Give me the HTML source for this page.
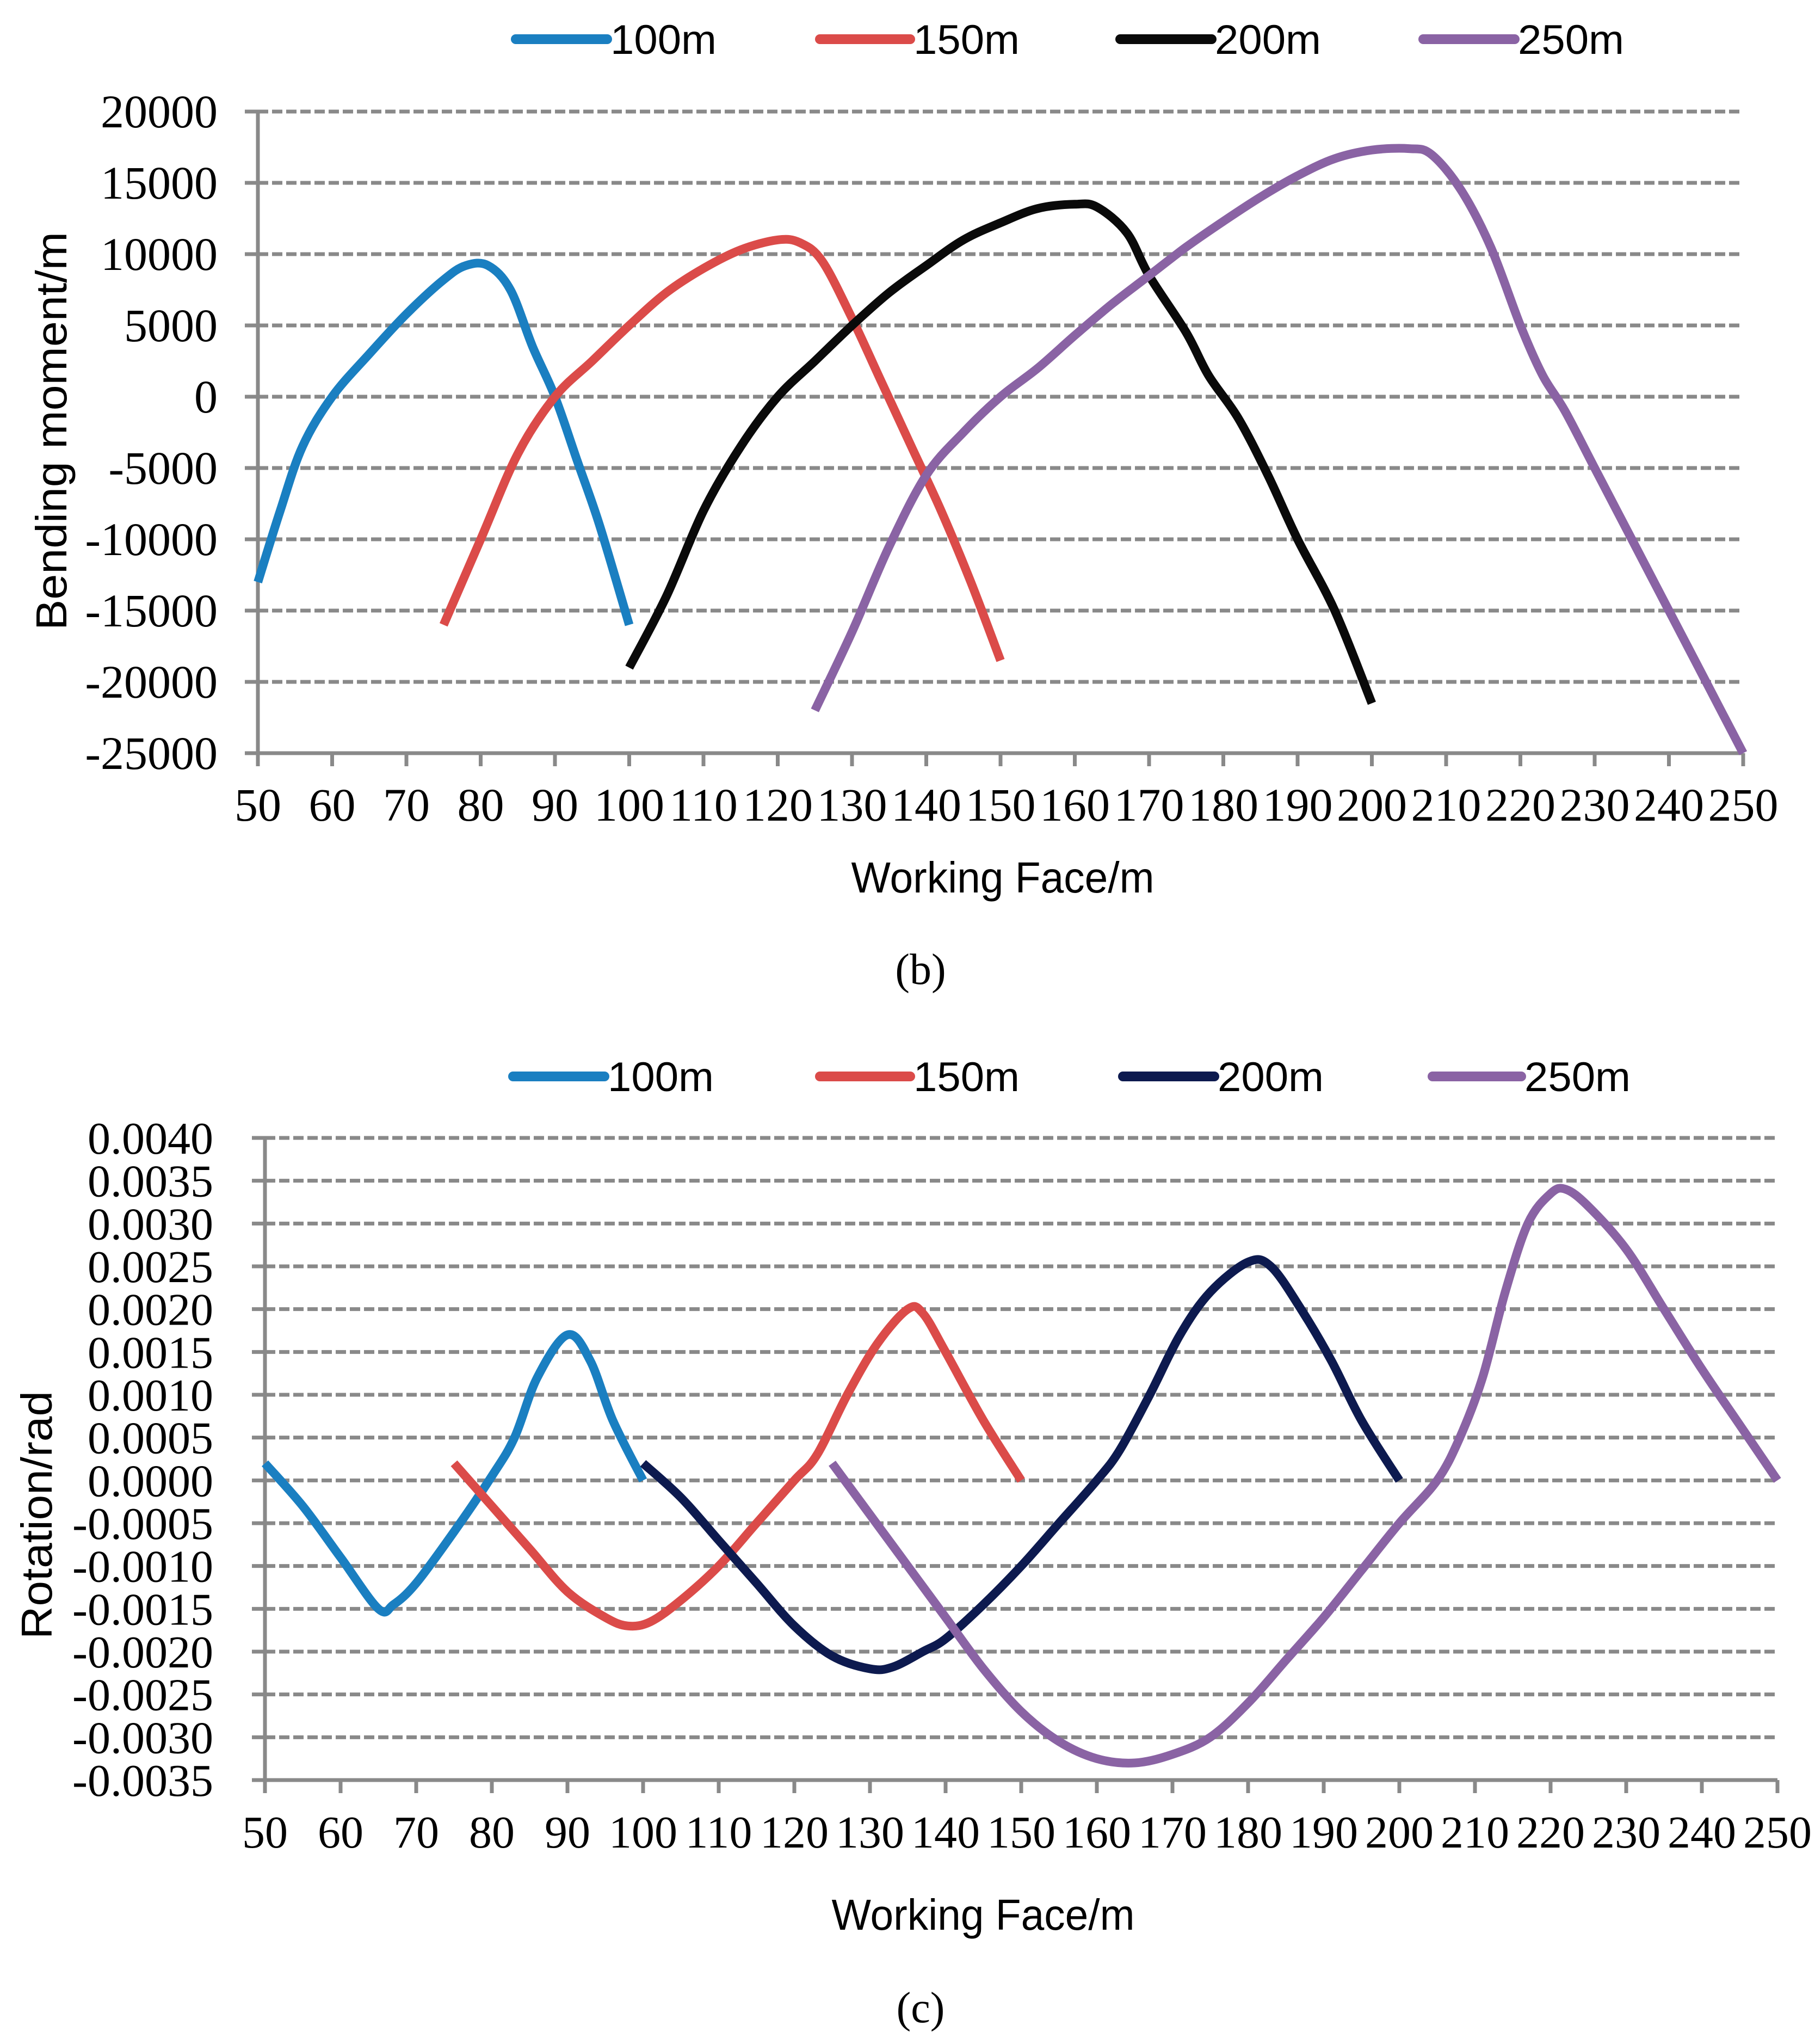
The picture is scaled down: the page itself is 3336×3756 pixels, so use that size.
<!DOCTYPE html>
<html><head><meta charset="utf-8"><style>
html,body{margin:0;padding:0;background:#fff;}
svg{display:block;}
</style></head><body>
<svg id="svg" width="3336" height="3756" viewBox="0 0 3336 3756" xmlns="http://www.w3.org/2000/svg">
<g id="c1"></g>
<g id="c2"></g>
</svg>
<script>
// ---- Chart (b) data ----
const b_x100 = [50,53,56,60,65,70,75,78,81,84,87,90,93,96,100];
const b_y100 = [-13000,-8000,-3500,0,3000,5800,8200,9200,9200,7500,3500,0,-4500,-9000,-16000];
const b_x150 = [75,80,85,90,95,100,105,110,115,120,123,126,130,134,138,142,146,150];
const b_y150 = [-16000,-10000,-4000,0,2500,5000,7300,9000,10300,11000,10800,9500,5500,1000,-3500,-8000,-13000,-18500];
const b_x200 = [100,105,110,115,120,125,130,135,140,145,150,155,160,163,167,170,175,178,182,186,190,195,200];
const b_y200 = [-19000,-14000,-8000,-3500,0,2500,5000,7300,9200,11000,12200,13200,13500,13300,11500,8500,4500,1500,-1500,-5500,-10000,-15000,-21500];
const b_x250 = [125,130,135,140,145,150,155,160,165,170,175,180,185,190,195,200,205,208,212,216,220,223,226,230,235,240,245,250];
const b_y250 = [-22000,-16500,-10500,-5500,-2500,0,2000,4300,6500,8500,10500,12300,14000,15500,16700,17300,17400,17000,14500,10500,5000,1500,-1000,-5000,-10000,-15000,-20000,-25000];
const b_yticks = [20000,15000,10000,5000,0,-5000,-10000,-15000,-20000,-25000];
const xticks = [50,60,70,80,90,100,110,120,130,140,150,160,170,180,190,200,210,220,230,240,250];
// ---- Chart (c) data ----
const c_x100 = [50,55,60,65,67,70,75,80,83,86,90,93,96,100];
const c_y100 = [0.0002,-0.0003,-0.0009,-0.0015,-0.00145,-0.0012,-0.0006,0.00005,0.0005,0.0012,0.0017,0.0014,0.0007,0];
const c_x150 = [75,80,85,90,95,98,101,105,110,115,120,123,127,131,135,137,140,145,150];
const c_y150 = [0.0002,-0.0003,-0.0008,-0.0013,-0.0016,-0.0017,-0.00165,-0.0014,-0.001,-0.0005,0,0.0003,0.001,0.0016,0.002,0.00195,0.0015,0.0007,0];
const c_x200 = [100,105,110,115,120,125,130,133,137,140,145,150,155,160,163,167,171,175,180,183,187,191,195,200];
const c_y200 = [0.0002,-0.0002,-0.0007,-0.0012,-0.0017,-0.00205,-0.0022,-0.00218,-0.002,-0.00185,-0.00145,-0.001,-0.0005,0,0.00035,0.001,0.0017,0.0022,0.00255,0.0025,0.002,0.0014,0.0007,0];
const c_x250 = [125,130,135,140,145,150,155,160,165,170,175,180,185,190,195,200,205,208,211,214,217,220,222,225,230,235,240,245,250];
const c_y250 = [0.0002,-0.0004,-0.001,-0.0016,-0.0022,-0.0027,-0.00305,-0.00325,-0.0033,-0.0032,-0.003,-0.0026,-0.0021,-0.0016,-0.00105,-0.0005,0,0.0005,0.0012,0.0022,0.003,0.00335,0.0034,0.0032,0.0027,0.002,0.0013,0.00065,0];
const c_yticks = [0.0040,0.0035,0.0030,0.0025,0.0020,0.0015,0.0010,0.0005,0.0000,-0.0005,-0.0010,-0.0015,-0.0020,-0.0025,-0.0030,-0.0035];
const legendLabels = ['100m','150m','200m','250m'];

const NS='http://www.w3.org/2000/svg';
function mk(parent,tag,attrs,text){const e=document.createElementNS(NS,tag);for(const k in attrs)e.setAttribute(k,attrs[k]);if(text!==undefined)e.textContent=text;parent.appendChild(e);return e;}
function smooth(pts){let d='M'+pts[0][0].toFixed(1)+','+pts[0][1].toFixed(1);
 for(let i=0;i<pts.length-1;i++){const p0=pts[i-1]||pts[i],p1=pts[i],p2=pts[i+1],p3=pts[i+2]||p2;
  const c1=[p1[0]+(p2[0]-p0[0])/6,p1[1]+(p2[1]-p0[1])/6],c2=[p2[0]-(p3[0]-p1[0])/6,p2[1]-(p3[1]-p1[1])/6];
  d+=' C'+c1[0].toFixed(1)+','+c1[1].toFixed(1)+' '+c2[0].toFixed(1)+','+c2[1].toFixed(1)+' '+p2[0].toFixed(1)+','+p2[1].toFixed(1);}
 return d;}

function chart(g,cfg){
 const xs=v=>cfg.x0+(v-50)/200*(cfg.x1-cfg.x0);
 const ys=v=>cfg.yTop+(cfg.yMax-v)/(cfg.yMax-cfg.yMin)*(cfg.yBot-cfg.yTop);
 cfg.yticks.forEach(t=>{
  const y=ys(t);
  if(Math.abs(t-cfg.yMin)>1e-12){
   const gl=mk(g,'line',{x1:cfg.x0,x2:cfg.x1,y1:y,y2:y,stroke:'#898989','stroke-width':7,'stroke-dasharray':'19 7'});
   
   
  }
  const tk=mk(g,'line',{x1:cfg.x0-24,x2:cfg.x0,y1:y,y2:y,stroke:'#898989','stroke-width':7});
  
  
  const lb=mk(g,'text',{x:cfg.labelRight,y:y+29,'text-anchor':'end','font-family':'Liberation Serif, serif','font-size':cfg.fs},cfg.fmt(t));
  
  
 });
 const ya=mk(g,'line',{x1:cfg.x0,x2:cfg.x0,y1:cfg.yTop,y2:cfg.yBot+24,stroke:'#898989','stroke-width':7});
 
 
 const xa=mk(g,'line',{x1:cfg.x0-24,x2:cfg.x1,y1:cfg.yBot,y2:cfg.yBot,stroke:'#898989','stroke-width':7});
 
 
 xticks.forEach(t=>{
  const x=xs(t);
  const tk=mk(g,'line',{x1:x,x2:x,y1:cfg.yBot,y2:cfg.yBot+24,stroke:'#898989','stroke-width':7});
  
  
  const lb=mk(g,'text',{x:x,y:cfg.xLabelY,'text-anchor':'middle','font-family':'Liberation Serif, serif','font-size':cfg.fs},String(t));
  
  
 });
 cfg.series.forEach((s,i)=>{
  const pts=s.x.map((v,j)=>[xs(v),ys(s.y[j])]);
  const p=mk(g,'path',{d:smooth(pts),fill:'none',stroke:s.color,'stroke-width':16,'stroke-linejoin':'round'});
  
  
 });
 cfg.series.forEach((s,i)=>{
  const L=cfg.legend[i];
  const ln=mk(g,'line',{x1:L[0],x2:L[1],y1:cfg.legY,y2:cfg.legY,stroke:s.color,'stroke-width':18,'stroke-linecap':'round'});
  
  
  const t=mk(g,'text',{x:L[1]+6,y:cfg.legY+27,'font-family':'Liberation Sans Narrow, Liberation Sans, sans-serif','font-size':76,textLength:195,lengthAdjust:'spacingAndGlyphs'},legendLabels[i]);
  
  
 });
 const yt=mk(g,'text',{x:0,y:0,'text-anchor':'middle','font-family':'Liberation Sans Narrow, Liberation Sans, sans-serif','font-size':80,transform:'translate('+cfg.yTitle[0]+','+cfg.yTitle[1]+') rotate(-90)',textLength:cfg.yTitle[2],lengthAdjust:'spacingAndGlyphs'},cfg.yTitleText);
 
 
 const xt=mk(g,'text',{x:cfg.xTitle[0],y:cfg.xTitle[1],'text-anchor':'middle','font-family':'Liberation Sans Narrow, Liberation Sans, sans-serif','font-size':80,textLength:557,lengthAdjust:'spacingAndGlyphs'},'Working Face/m');
 
 
 const cp=mk(g,'text',{x:1692,y:cfg.cap,'text-anchor':'middle','font-family':'Liberation Serif, serif','font-size':80},cfg.capText);
 
 
}

chart(document.getElementById('c1'),{
 x0:474,x1:3204,yTop:205,yBot:1384,yMax:20000,yMin:-25000,yticks:b_yticks,
 fmt:v=>String(v),labelRight:400,fs:86,xLabelY:1508,
 series:[{x:b_x100,y:b_y100,color:'#1a7fc1'},{x:b_x150,y:b_y150,color:'#db4b49'},{x:b_x200,y:b_y200,color:'#0a0a0a'},{x:b_x250,y:b_y250,color:'#8a63a4'}],
 legend:[[948,1116],[1507,1673],[2059,2227],[2616,2784]],legY:72,
 yTitle:[122,792,732],yTitleText:'Bending moment/m',xTitle:[1843,1640],cap:1808,capText:'(b)'
});
chart(document.getElementById('c2'),{
 x0:487,x1:3267,yTop:2091,yBot:3271,yMax:0.004,yMin:-0.0035,yticks:c_yticks,
 fmt:v=>v.toFixed(4),labelRight:392,fs:84,xLabelY:3395,
 series:[{x:c_x100,y:c_y100,color:'#1a7fc1'},{x:c_x150,y:c_y150,color:'#db4b49'},{x:c_x200,y:c_y200,color:'#0d1a4f'},{x:c_x250,y:c_y250,color:'#8a63a4'}],
 legend:[[943,1111],[1507,1673],[2064,2232],[2633,2796]],legY:1978,
 yTitle:[95,2784,456],yTitleText:'Rotation/rad',xTitle:[1807,3546],cap:3716,capText:'(c)'
});
</script>
</body></html>
